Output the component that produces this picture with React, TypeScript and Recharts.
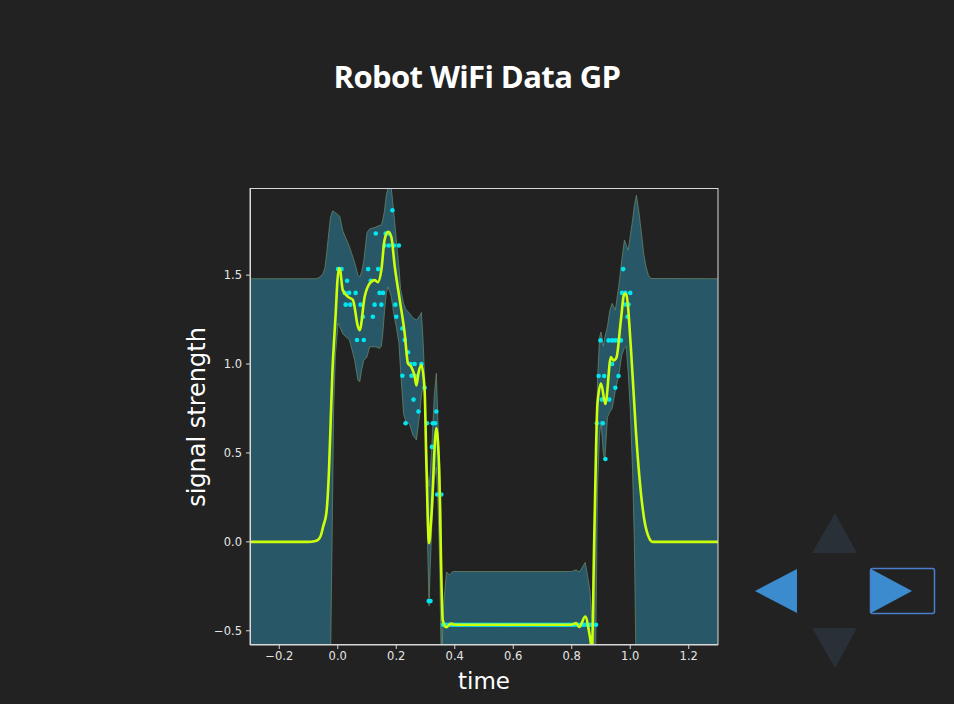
import { Area, ComposedChart, Line, Scatter, XAxis, YAxis } from "recharts";

// GP posterior: 2-sigma band around the mean
const BAND_X = [
  -0.3, -0.073, -0.06, -0.05, -0.044, -0.038, -0.033, -0.028, -0.024, -0.018, -0.014, -0.008,
  0.001, 0.007, 0.017, 0.03, 0.04, 0.052, 0.058, 0.069, 0.075, 0.082, 0.089, 0.1, 0.109, 0.13,
  0.143, 0.149, 0.154, 0.16, 0.166, 0.172, 0.183, 0.19, 0.195, 0.2, 0.209, 0.215, 0.225, 0.232,
  0.246, 0.257, 0.269, 0.28, 0.286, 0.292, 0.297, 0.302, 0.307, 0.312, 0.316, 0.322, 0.33, 0.337,
  0.342, 0.348, 0.353, 0.357, 0.362, 0.372, 0.382, 0.393, 0.8, 0.815, 0.826, 0.846, 0.855, 0.862,
  0.869, 0.876, 0.882, 0.888, 0.895, 0.9, 0.908, 0.913, 0.922, 0.93, 0.938, 0.949, 0.962, 0.971,
  0.98, 0.986, 0.993, 1.0, 1.008, 1.014, 1.019, 1.021, 1.03, 1.037, 1.046, 1.054, 1.062, 1.071, 1.3,
];
const BAND_LO = [
  -1.48, -1.48, -1.46, -1.35, -1.2, -1.0, -0.85, -0.7, -0.6, 0.2, 0.75, 1.05,
  1.23, 1.21, 1.17, 1.15, 1.135, 1.06, 1.02, 0.91, 0.9, 0.97, 1.02, 1.04, 1.097, 1.097,
  1.088, 1.1, 1.17, 1.3, 1.4, 1.434, 1.38, 1.3, 1.25, 1.21, 1.12, 0.96, 0.72, 0.68,
  0.66, 0.6, 0.573, 0.72, 0.82, 0.88, 0.86, 0.5, 0.0, -0.36, -0.15, 0.1, 0.35, 0.42,
  0.25, -0.1, -0.6, -0.85, -0.8, -0.78, -0.78, -0.77, -0.77, -0.76, -0.78, -0.73, -0.8, -0.85,
  -0.9, -0.95, -0.6, 0.3, 0.6, 0.68, 0.5, 0.46, 0.7, 0.73, 0.75, 0.85, 0.95, 1.05,
  1.09, 1.1, 0.95, 0.75, 0.4, 0.0, -0.6, -0.8, -1.1, -1.25, -1.38, -1.44, -1.47, -1.48, -1.48,
];
const BAND_HI = [
  1.48, 1.48, 1.49, 1.51, 1.54, 1.62, 1.7, 1.78, 1.83, 1.86, 1.86, 1.85,
  1.84, 1.83, 1.75, 1.7, 1.66, 1.6, 1.57, 1.5, 1.49, 1.52, 1.58, 1.74, 1.76, 1.77,
  1.78, 1.78, 1.81, 1.865, 1.95, 1.99, 1.99, 1.88, 1.79, 1.7, 1.547, 1.42, 1.341, 1.31,
  1.284, 1.26, 1.247, 1.27, 1.29, 1.12, 0.93, 0.62, 0.4, 0.31, 0.38, 0.55, 0.82, 0.948,
  0.7, 0.45, 0.18, -0.6, -0.35, -0.17, -0.185, -0.167, -0.167, -0.157, -0.17, -0.116, -0.2, -0.27,
  -0.45, -0.62, 0.2, 0.91, 1.15, 1.18, 1.1, 1.15, 1.21, 1.3, 1.341, 1.303, 1.453, 1.584,
  1.697, 1.67, 1.64, 1.72, 1.809, 1.89, 1.93, 1.949, 1.85, 1.753, 1.62, 1.547, 1.5, 1.481, 1.48,
];

// GP posterior mean
const MEAN_X = [
  -0.3, -0.1, -0.08, -0.067, -0.058, -0.05, -0.039, -0.03, -0.024, -0.018, -0.013, -0.007, -0.001,
  0.004, 0.008, 0.017, 0.035, 0.052, 0.069, 0.075, 0.092, 0.109, 0.126, 0.137, 0.149, 0.16, 0.172,
  0.183, 0.195, 0.212, 0.229, 0.24, 0.251, 0.263, 0.269, 0.276, 0.286, 0.297, 0.303, 0.312, 0.32,
  0.337, 0.346, 0.359, 0.371, 0.388, 0.4, 0.8, 0.815, 0.826, 0.846, 0.862, 0.869, 0.877, 0.888,
  0.9, 0.915, 0.934, 0.943, 0.953, 0.968, 0.98, 0.987, 1.002, 1.019, 1.031, 1.048, 1.065, 1.076, 1.3,
];
const MEAN_Y = [
  0, 0, 0.003, 0.012, 0.035, 0.086, 0.161, 0.4, 0.685, 0.966, 1.12, 1.285, 1.47,
  1.54, 1.53, 1.416, 1.378, 1.36, 1.21, 1.19, 1.378, 1.453, 1.472, 1.46, 1.528, 1.697, 1.743,
  1.715, 1.547, 1.36, 1.17, 1.004, 0.985, 0.929, 0.88, 0.95, 0.994, 0.85, 0.44, -0.007, 0.142,
  0.64, 0.44, -0.44, -0.48, -0.46, -0.466, -0.466, -0.457, -0.479, -0.42, -0.532, -0.6, 0.03, 0.78,
  0.89, 0.775, 1.04, 1.02, 1.037, 1.247, 1.397, 1.388, 1.097, 0.63, 0.37, 0.124, 0.02, 0, 0,
];

// observed signal strength samples
const OBS_X = [
  0.001, 0.013, 0.104, 0.138, 0.032, 0.113, 0.024, 0.039, 0.061, 0.143, 0.155,
  0.027, 0.043, 0.078, 0.126, 0.149, 0.197, 0.086, 0.12, 0.2, 0.221, 0.066, 0.089, 0.229,
  0.24, 0.249, 0.263, 0.286, 0.221, 0.252, 0.264, 0.297, 0.259, 0.276, 0.337,
  0.232, 0.305, 0.325, 0.333, 0.322, 0.34, 0.354, 0.311, 0.317,
  0.13, 0.164, 0.175, 0.187, 0.16, 0.175, 0.192, 0.209,
  0.976, 0.972, 0.983, 1.0, 0.983, 0.994, 0.991, 0.898, 0.926, 0.938, 0.949, 0.96, 0.968,
  0.938, 0.892, 0.911, 0.96, 0.949, 0.903, 0.928, 0.886, 0.906, 0.915,
];
const OBS_Y = [
  1.534, 1.534, 1.534, 1.534, 1.468, 1.468, 1.4, 1.4, 1.4, 1.4, 1.4,
  1.334, 1.334, 1.334, 1.334, 1.334, 1.334, 1.266, 1.266, 1.266, 1.2, 1.135, 1.135, 1.135,
  1.066, 1.0, 1.0, 1.0, 0.934, 0.934, 0.934, 0.867, 0.8, 0.733, 0.733,
  0.667, 0.667, 0.667, 0.667, 0.534, 0.266, 0.266, -0.333, -0.333,
  1.734, 1.734, 1.734, 1.865, 1.667, 1.667, 1.667, 1.667,
  1.534, 1.4, 1.4, 1.4, 1.335, 1.335, 1.266, 1.133, 1.133, 1.133, 1.133, 1.133, 1.133,
  1.0, 0.933, 0.933, 0.933, 0.867, 0.8, 0.8, 0.667, 0.667, 0.466,
];
// the long run of identical readings while the robot is out of range
const FLAT_X = [
  0.36, 0.37, 0.38, 0.39, 0.4, 0.41, 0.42, 0.43, 0.44, 0.45, 0.46, 0.47, 0.48, 0.49, 0.5,
  0.51, 0.52, 0.53, 0.54, 0.55, 0.56, 0.57, 0.58, 0.59, 0.6, 0.61, 0.62, 0.63, 0.64, 0.65,
  0.66, 0.67, 0.68, 0.69, 0.7, 0.71, 0.72, 0.73, 0.74, 0.75, 0.76, 0.77, 0.78, 0.79, 0.8,
  0.81, 0.82, 0.83, 0.84, 0.85, 0.86, 0.87, 0.883,
];
const FLAT_Y = -0.466;

const X_TICKS = [-0.2, 0, 0.2, 0.4, 0.6, 0.8, 1.0, 1.2];
const Y_TICKS = [-0.5, 0, 0.5, 1.0, 1.5];

const band = BAND_X.map((x, i) => ({ x, range: [BAND_LO[i], BAND_HI[i]] }));
const mean = MEAN_X.map((x, i) => ({ x, y: MEAN_Y[i] }));
const obs = [
  ...OBS_X.map((x, i) => ({ x, y: OBS_Y[i] })),
  ...FLAT_X.map((x) => ({ x, y: FLAT_Y })),
];

const fmt = (v: number) => (v < 0 ? "\u2212" : "") + Math.abs(v).toFixed(1);
const tickStyle = { fill: "#e6e6e6", fontSize: 11.5, fontFamily: "DejaVu Sans" };

export default function App() {
  return (
    <div style={{ position: "fixed", left: 0, top: 0, width: 954, height: 704, background: "#222222", overflow: "hidden" }}>
      <ComposedChart
        width={954}
        height={704}
        margin={{ top: 188, right: 236, bottom: 29, left: 200 }}
        style={{ position: "absolute", left: 0, top: 0 }}
      >
        <Area
          data={band}
          dataKey="range"
          type="linear"
          stroke="#6f8d6c"
          strokeWidth={0.7}
          fill="#285868"
          fillOpacity={1}
          isAnimationActive={false}
          zIndex={100}
        />
        <Scatter
          data={obs}
          dataKey="y"
          fill="#00e6f0"
          isAnimationActive={false}
          zIndex={300}
          shape={(p: any) => <circle cx={p.cx} cy={p.cy} r={2.3} fill="#00e6f0" />}
        />
        {/* mean on top of the observations */}
        <Line
          data={mean}
          dataKey="y"
          type="monotone"
          stroke="#ccff0a"
          strokeWidth={2.6}
          dot={false}
          isAnimationActive={false}
          zIndex={900}
        />
        <XAxis
          dataKey="x"
          type="number"
          domain={[-0.3, 1.3]}
          allowDataOverflow
          ticks={X_TICKS}
          tickFormatter={fmt}
          height={30}
          stroke="#d8d8d8"
          tickSize={4}
          tickMargin={3}
          tick={tickStyle}
        />
        <YAxis
          type="number"
          domain={[-0.58, 1.99]}
          allowDataOverflow
          ticks={Y_TICKS}
          tickFormatter={fmt}
          width={50}
          stroke="#d8d8d8"
          tickSize={4}
          tickMargin={4}
          tick={tickStyle}
        />
      </ComposedChart>

      <svg width={954} height={704} style={{ position: "absolute", left: 0, top: 0, pointerEvents: "none" }}>
        {/* axes frame */}
        <rect x={250.5} y={188.5} width={467.5} height={456} fill="none" stroke="#d8d8d8" strokeWidth={1} />
        <text x={477} y={88} textAnchor="middle" fill="#ffffff" fontFamily="Open Sans" fontWeight={700} fontSize={31} letterSpacing={-0.6}>
          Robot WiFi Data GP
        </text>
        <text x={484} y={689} textAnchor="middle" fill="#ffffff" fontFamily="DejaVu Sans" fontSize={23}>
          time
        </text>
        <text
          x={0}
          y={0}
          transform="translate(205 417) rotate(-90)"
          textAnchor="middle"
          fill="#ffffff"
          fontFamily="DejaVu Sans"
          fontSize={24}
        >
          signal strength
        </text>
        {/* slide navigation controls */}
        <polygon points="835,513 857,553 812,553" fill="#2a3037" />
        <polygon points="812,628 857,628 835,668" fill="#2a3037" />
        <polygon points="755,591 797,569 797,613" fill="#3d8bcf" />
        <polygon points="912,591 871,569 871,613" fill="#3d8bcf" />
        <rect x={870.5} y={568.5} width={64} height={45} rx={2} fill="none" stroke="#4a7fd0" strokeWidth={1.5} />
      </svg>
    </div>
  );
}
